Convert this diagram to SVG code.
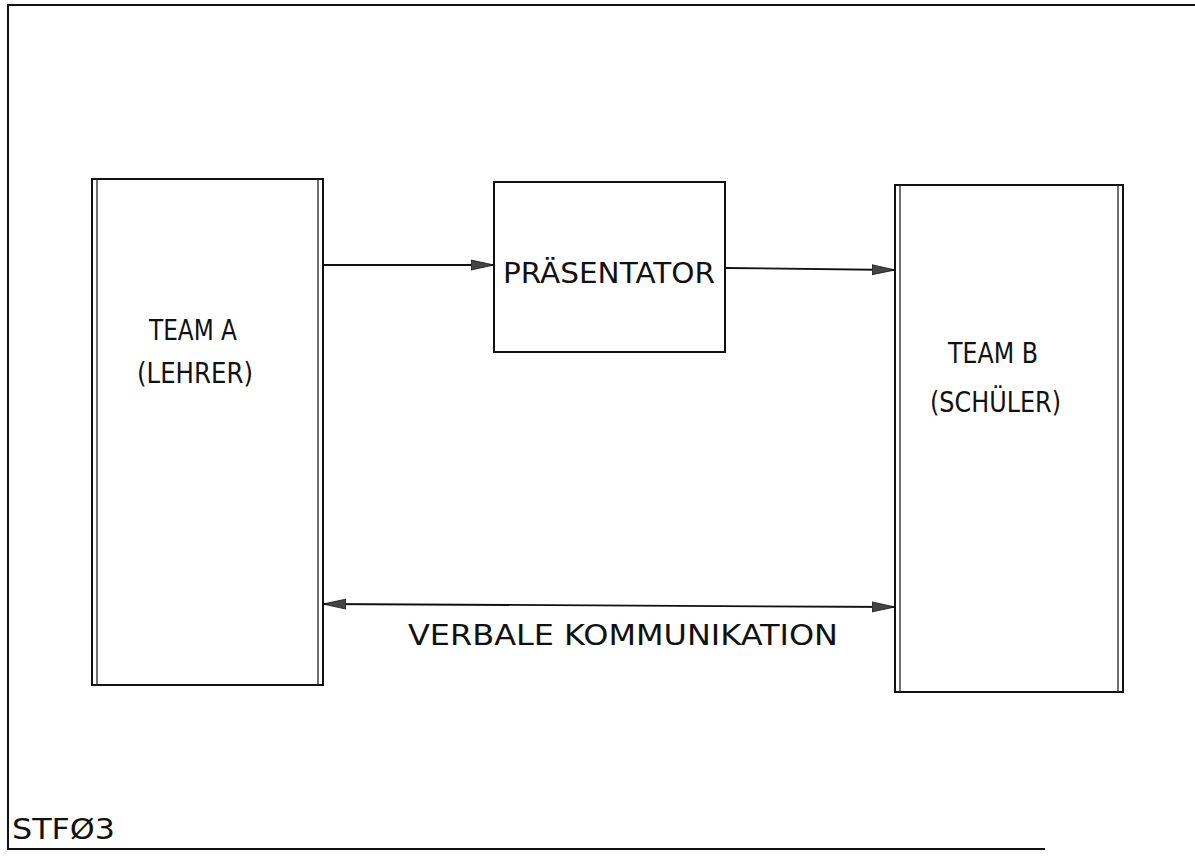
<svg xmlns="http://www.w3.org/2000/svg" width="1195" height="861" viewBox="0 0 1195 861">
<style>
.ln{stroke:#111;stroke-width:2;fill:none}
.thin{stroke:#222;stroke-width:1.3;fill:none}
.tx{font-family:"DejaVu Sans","Liberation Sans",sans-serif;font-size:28px;fill:#111;font-weight:normal}
.con{stroke:#111;stroke-width:1.8;fill:none}
</style>
<defs>
<marker id="ah" markerUnits="userSpaceOnUse" markerWidth="24" markerHeight="12" refX="23" refY="6" orient="auto-start-reverse">
<path d="M0,1 L23,6 L0,11 Z" fill="#444" stroke="#111" stroke-width="0.8"/>
</marker>
</defs>
<rect width="1195" height="861" fill="#fff"/>
<g id="frame">
<path class="ln" d="M1195,5 L8,5 L8,849 L1045,849"/>
</g>
<g id="teamA">
<path class="ln" d="M92,685 L92,179 L323,179 L323,685 Z"/>
<line class="thin" x1="97" y1="179" x2="97" y2="685"/>
<line class="thin" x1="318" y1="179" x2="318" y2="685"/>
<text class="tx" x="149" y="340" textLength="88" lengthAdjust="spacingAndGlyphs">TEAM A</text>
<text class="tx" x="137" y="383" textLength="116" lengthAdjust="spacingAndGlyphs">(LEHRER)</text>
</g>
<g id="praesentator">
<rect class="ln" x="494" y="182" width="231" height="170"/>
<text class="tx" x="503" y="283" textLength="212" lengthAdjust="spacingAndGlyphs">PRÄSENTATOR</text>
</g>
<g id="teamB">
<path class="ln" d="M895,692 L895,185 L1123,185 L1123,692 Z"/>
<line class="thin" x1="900" y1="185" x2="900" y2="692"/>
<line class="thin" x1="1118" y1="185" x2="1118" y2="692"/>
<text class="tx" x="948" y="363" textLength="90" lengthAdjust="spacingAndGlyphs">TEAM B</text>
<text class="tx" x="930" y="412" textLength="131" lengthAdjust="spacingAndGlyphs">(SCHÜLER)</text>
</g>
<g id="connectors">
<line class="con" x1="323" y1="265" x2="494" y2="265" marker-end="url(#ah)"/>
<line class="con" x1="725" y1="268" x2="895" y2="270" marker-end="url(#ah)"/>
<line class="con" x1="323" y1="604" x2="895" y2="607" marker-start="url(#ah)" marker-end="url(#ah)"/>
<text class="tx" x="408" y="645" textLength="430" lengthAdjust="spacingAndGlyphs">VERBALE KOMMUNIKATION</text>
</g>
<text class="tx" x="12" y="839" textLength="103" lengthAdjust="spacingAndGlyphs">STFØ3</text>
</svg>
